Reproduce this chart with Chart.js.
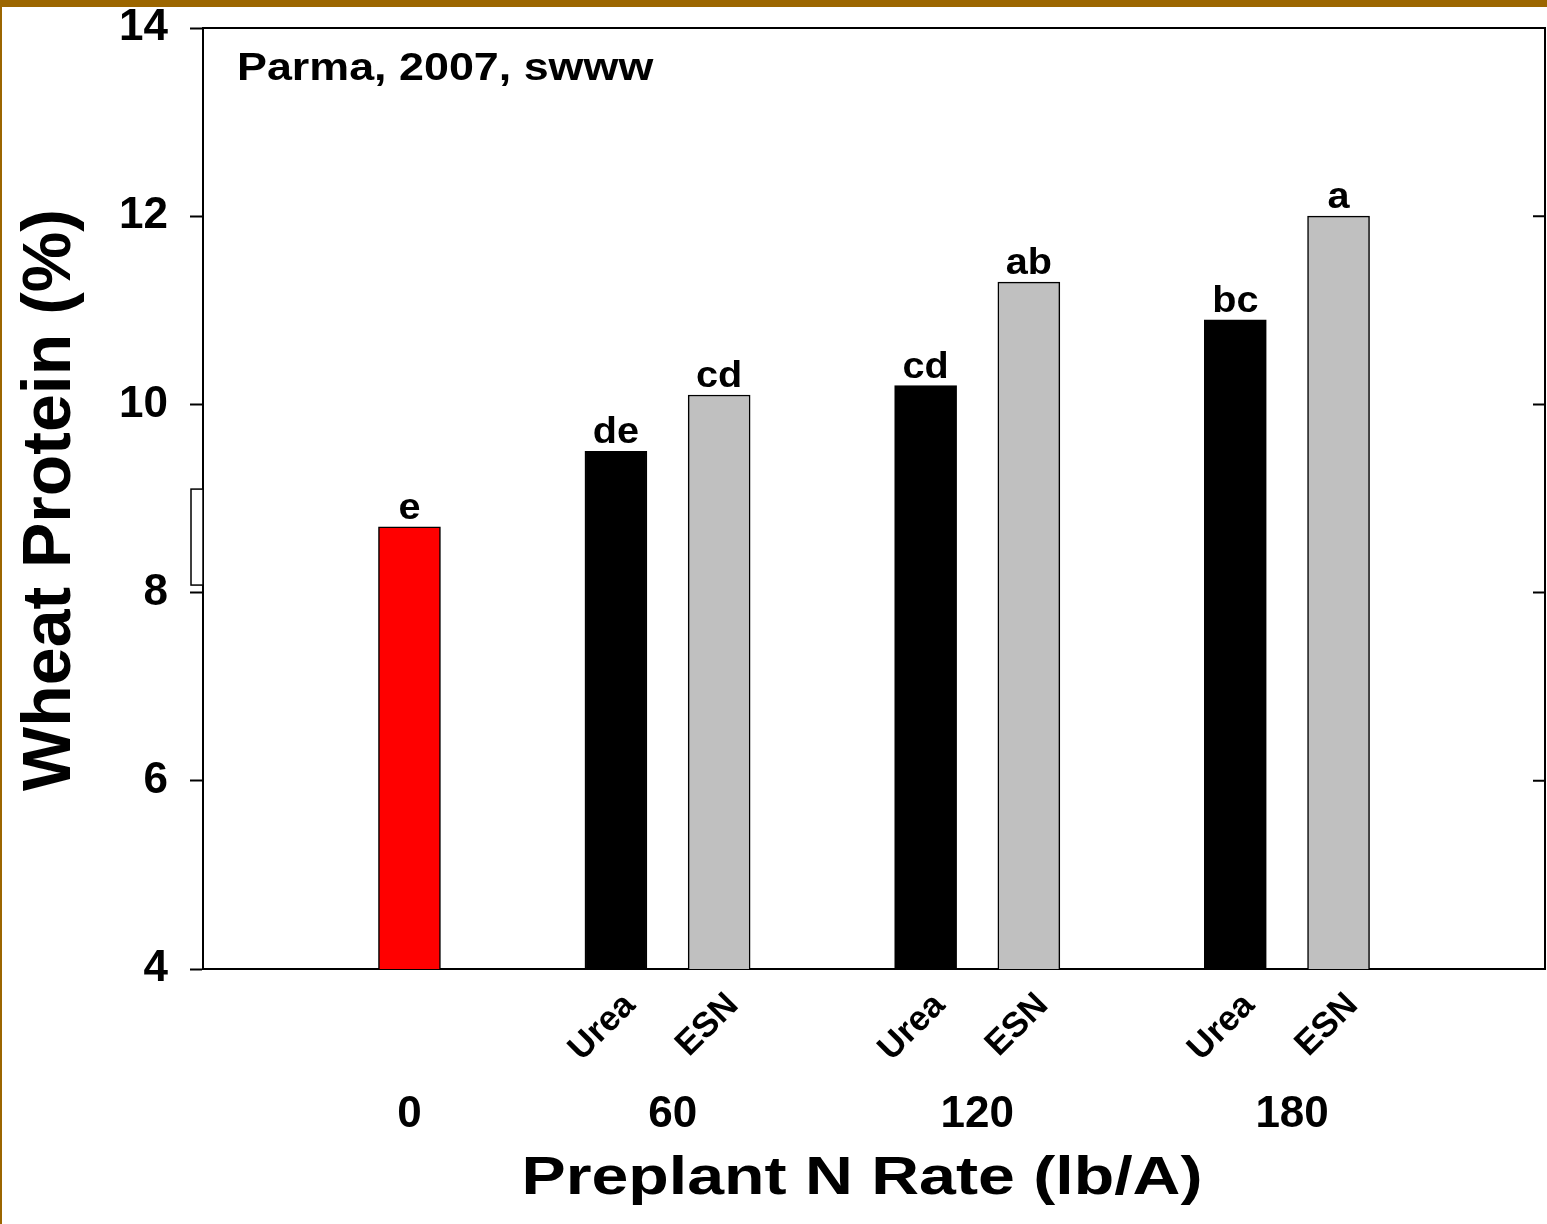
<!DOCTYPE html>
<html>
<head>
<meta charset="utf-8">
<script src="https://cdn.jsdelivr.net/npm/chart.js@4/dist/chart.umd.min.js"></script>
<style>
  html, body { margin: 0; padding: 0; background: #fff; }
  canvas { display: block; }
</style>
</head>
<body>
<canvas id="chart" width="1547" height="1224"></canvas>
<script>
// data
const positions = [2, 4, 5, 7, 8, 10, 11]
const sources = ["Check", "Urea", "ESN", "Urea", "ESN", "Urea", "ESN"]
const protein = [8.7, 9.5, 10.1, 10.2, 11.3, 10.9, 12.0]
const letters = ["e", "de", "cd", "cd", "ab", "bc", "a"]
const rateLabels = ["0", "60", "120", "180"]
const ratePositions = [2, 4.55, 7.5, 10.55]
const yTicks = [4, 6, 8, 10, 12, 14]

const colorOf = { Check: "#ff0000", Urea: "#000000", ESN: "#c0c0c0" }
const FONT = "'Liberation Sans', Arial, sans-serif"

function stretched(ctx, text, x, y, size, sx, align) {
  ctx.save()
  ctx.translate(x, y)
  ctx.scale(sx, 1)
  ctx.font = `bold ${size}px ${FONT}`
  ctx.textAlign = align
  ctx.textBaseline = "alphabetic"
  ctx.fillStyle = "#000"
  ctx.fillText(text, 0, 0)
  ctx.restore()
}

const decorations = {
  id: "decorations",
  beforeDraw(chart) {
    const ctx = chart.ctx
    ctx.save()
    ctx.fillStyle = "#fff"
    ctx.fillRect(0, 0, chart.width, chart.height)
    ctx.fillStyle = "#9c6600"
    ctx.fillRect(0, 0, chart.width, 7)
    ctx.fillRect(0, 0, 2, chart.height)
    ctx.restore()
  },
  afterDraw(chart) {
    const ctx = chart.ctx
    const { x, y } = chart.scales
    const area = chart.chartArea
    ctx.save()
    // top and right frame, right-side inward ticks
    ctx.strokeStyle = "#000"
    ctx.lineWidth = 2
    ctx.beginPath()
    ctx.moveTo(area.left, area.top)
    ctx.lineTo(area.right, area.top)
    ctx.lineTo(area.right, area.bottom)
    yTicks.forEach(v => {
      const py = y.getPixelForValue(v)
      ctx.moveTo(area.right - 12, py)
      ctx.lineTo(area.right, py)
    })
    ctx.stroke()

    // small box left of the axis
    ctx.lineWidth = 1.5
    ctx.fillStyle = "#fff"
    const bt = y.getPixelForValue(9.1), bb = y.getPixelForValue(8.08)
    ctx.fillRect(area.left - 12, bt, 12, bb - bt)
    ctx.strokeRect(area.left - 12, bt, 12, bb - bt)

    // significance letters
    const meta = chart.getDatasetMeta(0)
    meta.data.forEach((bar, i) => {
      stretched(ctx, letters[i], bar.x, bar.y - 8, 36, 1.1, "center")
    })

    // N rate labels
    rateLabels.forEach((t, i) => {
      stretched(ctx, t, x.getPixelForValue(ratePositions[i]), 1127, 44, 1, "center")
    })

    // titles
    stretched(ctx, "Parma, 2007, swww", 237, 80, 38, 1.18, "left")
    stretched(ctx, "Preplant N Rate (lb/A)", 862, 1194, 53, 1.25, "center")
    ctx.save()
    ctx.translate(70, 500)
    ctx.rotate(-Math.PI / 2)
    ctx.font = `bold 68px ${FONT}`
    ctx.textAlign = "center"
    ctx.fillStyle = "#000"
    ctx.fillText("Wheat Protein (%)", 0, 0)
    ctx.restore()
    ctx.restore()
  }
}

new Chart(document.getElementById("chart"), {
  type: "bar",
  data: {
    datasets: [{
      data: positions.map((p, i) => ({ x: p, y: protein[i] })),
      backgroundColor: sources.map(s => colorOf[s]),
      borderColor: "#000",
      borderWidth: 1.5,
      barThickness: 62
    }]
  },
  options: {
    responsive: false,
    animation: false,
    devicePixelRatio: 1,
    layout: { padding: { top: 28, right: 2, left: 0, bottom: 0 } },
    plugins: { legend: { display: false }, tooltip: { enabled: false } },
    scales: {
      x: {
        type: "linear",
        min: 0,
        max: 13,
        offset: false,
        afterFit: s => {
          s.height = 255
          s.paddingLeft = 0
          s.paddingRight = 0
        },
        afterBuildTicks: s => {
          s.ticks = positions.filter((p, i) => sources[i] != "Check").map(v => ({ value: v }))
        },
        grid: { display: false, drawTicks: false, offset: false },
        border: { display: true, color: "#000", width: 2 },
        ticks: {
          autoSkip: false,
          minRotation: 45,
          maxRotation: 45,
          padding: 16,
          labelOffset: 14,
          color: "#000",
          font: { family: FONT, size: 35, weight: "bold" },
          callback: v => sources[positions.indexOf(v)]
        }
      },
      y: {
        min: 4,
        max: 14,
        afterFit: s => {
          s.width = 203
          s.paddingTop = 0
          s.paddingBottom = 0
        },
        afterBuildTicks: s => { s.ticks = yTicks.map(v => ({ value: v })) },
        grid: { drawOnChartArea: false, tickLength: 13, tickWidth: 2, tickColor: "#000" },
        border: { display: true, color: "#000", width: 2 },
        ticks: {
          padding: 22,
          color: "#000",
          font: { family: FONT, size: 44, weight: "bold" }
        }
      }
    }
  },
  plugins: [decorations]
})
</script>
</body>
</html>
